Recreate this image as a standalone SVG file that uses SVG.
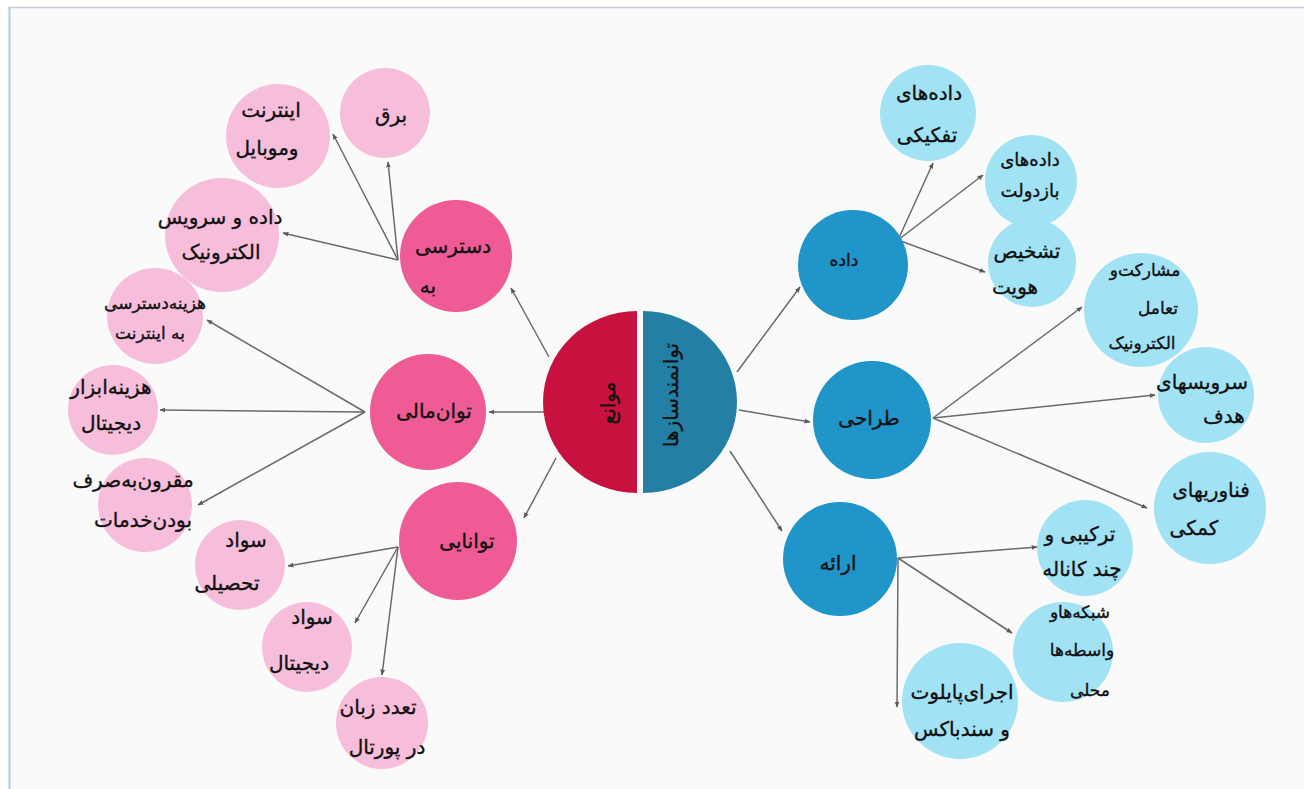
<svg xmlns="http://www.w3.org/2000/svg" width="1304" height="789" viewBox="0 0 1304 789">
<defs>
<marker id="ah" viewBox="0 0 10 10" refX="9" refY="5" markerWidth="6" markerHeight="6" orient="auto" markerUnits="userSpaceOnUse">
<path d="M0,1 L10,5 L0,9 z" fill="#5a5a5a"/>
</marker>
<style>
.t{font-family:"DejaVu Sans","Noto Sans",sans-serif;font-size:20px;fill:#111;stroke:#111;stroke-width:0.35;text-anchor:middle;direction:rtl}
.s{font-size:17px}
.hub{fill:#ee5b95}
.lp{fill:#f7bedb}
.bh{fill:#1f95c9}
.lb{fill:#a2e2f5}
.c line{stroke:#6a6a6a;stroke-width:1.5;marker-end:url(#ah)}
</style>
</defs>
<rect x="0" y="0" width="1304" height="789" fill="#ffffff"/>
<rect x="9" y="7" width="1295" height="782" fill="#fafafa"/>
<line x1="9" y1="7.5" x2="1304" y2="7.5" stroke="#c5ced8" stroke-width="1.5"/>
<line x1="9.5" y1="7" x2="9.5" y2="789" stroke="#aecbe8" stroke-width="2"/>

<g id="connectors" class="c">
<line x1="549" y1="357" x2="511" y2="288"/>
<line x1="545" y1="412" x2="489" y2="412"/>
<line x1="556" y1="458" x2="524" y2="518"/>
<line x1="398" y1="260" x2="388" y2="162"/>
<line x1="398" y1="260" x2="333" y2="134"/>
<line x1="398" y1="260" x2="283" y2="233"/>
<line x1="365" y1="412" x2="207" y2="320"/>
<line x1="365" y1="412" x2="160" y2="410"/>
<line x1="365" y1="412" x2="198" y2="505"/>
<line x1="398" y1="547" x2="288" y2="566"/>
<line x1="398" y1="547" x2="355" y2="623"/>
<line x1="398" y1="547" x2="382" y2="675"/>
<line x1="737" y1="372" x2="800" y2="287"/>
<line x1="739" y1="410" x2="810" y2="422"/>
<line x1="730" y1="451" x2="782" y2="531"/>
<line x1="898" y1="240" x2="933" y2="163"/>
<line x1="898" y1="240" x2="983" y2="175"/>
<line x1="898" y1="240" x2="985" y2="272"/>
<line x1="933" y1="418" x2="1082" y2="307"/>
<line x1="933" y1="418" x2="1155" y2="395"/>
<line x1="933" y1="418" x2="1147" y2="508"/>
<line x1="898" y1="558" x2="1037" y2="547"/>
<line x1="898" y1="558" x2="1012" y2="633"/>
<line x1="898" y1="558" x2="897" y2="707"/>
</g>

<g id="center">
<path d="M637,311 A94,91 0 0 0 637,493 Z" fill="#c8113f"/>
<path d="M643,311 A94,91 0 0 1 643,493 Z" fill="#237fa3"/>
<text class="t" transform="translate(608,403) rotate(-90)" dy="7">موانع</text>
<text class="t" transform="translate(671,395) rotate(-90)" dy="7">توانمندسازها</text>
</g>

<g id="n-access"><circle class="hub" cx="456" cy="256" r="56"/>
<text class="t" x="453" y="253">دسترسی</text><text class="t" x="428" y="293">به</text></g>
<g id="n-finance"><circle class="hub" cx="428" cy="412" r="58"/>
<text class="t" x="434" y="418">توان‌مالی</text></g>
<g id="n-ability"><circle class="hub" cx="458" cy="541" r="59"/>
<text class="t" x="467" y="548">توانایی</text></g>

<g id="n-power"><circle class="lp" cx="385" cy="113" r="45"/>
<text class="t" x="391" y="122">برق</text></g>
<g id="n-internet"><circle class="lp" cx="278" cy="136" r="52"/>
<text class="t" x="271" y="117">اینترنت</text><text class="t" x="267" y="155">وموبایل</text></g>
<g id="n-eservice"><circle class="lp" cx="222" cy="235" r="57"/>
<text class="t" x="220" y="224">داده و سرویس</text><text class="t" x="221" y="259">الکترونیک</text></g>
<g id="n-netcost"><circle class="lp" cx="155" cy="316" r="48"/>
<text class="t s" x="155" y="309">هزینه‌دسترسی</text><text class="t s" x="150" y="339">به اینترنت</text></g>
<g id="n-toolcost"><circle class="lp" cx="113" cy="410" r="45"/>
<text class="t" x="111" y="394">هزینه‌ابزار</text><text class="t" x="111" y="430">دیجیتال</text></g>
<g id="n-afford"><circle class="lp" cx="145" cy="505" r="47"/>
<text class="t" x="133" y="487">مقرون‌به‌صرف</text><text class="t" x="143" y="527">بودن‌خدمات</text></g>
<g id="n-edu"><circle class="lp" cx="240" cy="565" r="45"/>
<text class="t" x="246" y="547">سواد</text><text class="t" x="227" y="590">تحصیلی</text></g>
<g id="n-digit"><circle class="lp" cx="307" cy="647" r="45"/>
<text class="t" x="312" y="624">سواد</text><text class="t" x="299" y="670">دیجیتال</text></g>
<g id="n-lang"><circle class="lp" cx="382" cy="723" r="46"/>
<text class="t" x="378" y="714">تعدد زبان</text><text class="t" x="387" y="754">در پورتال</text></g>

<g id="n-data"><circle class="bh" cx="853" cy="265" r="55"/>
<text class="t s" x="844" y="266">داده</text></g>
<g id="n-design"><circle class="bh" cx="872" cy="420" r="59"/>
<text class="t" x="869" y="425">طراحی</text></g>
<g id="n-deliver"><circle class="bh" cx="840" cy="559" r="57"/>
<text class="t" x="838" y="570">ارائه</text></g>

<g id="n-disagg"><circle class="lb" cx="928" cy="113" r="48"/>
<text class="t" x="929" y="100">داده‌های</text><text class="t" x="927" y="142">تفکیکی</text></g>
<g id="n-open"><circle class="lb" cx="1031" cy="181" r="46"/>
<text class="t" x="1030" y="166" style="font-size:18px">داده‌های</text><text class="t" x="1030" y="197" style="font-size:18px">بازدولت</text></g>
<g id="n-ident"><circle class="lb" cx="1032" cy="263" r="44"/>
<text class="t" x="1027" y="258">تشخیص</text><text class="t" x="1015" y="294">هویت</text></g>
<g id="n-partic"><circle class="lb" cx="1141" cy="310" r="57"/>
<text class="t s" x="1145" y="276">مشارکت‌و</text><text class="t s" x="1158" y="314">تعامل</text><text class="t s" x="1142" y="349">الکترونیک</text></g>
<g id="n-target"><circle class="lb" cx="1206" cy="395" r="48"/>
<text class="t" x="1202" y="389">سرویسهای</text><text class="t" x="1224" y="423">هدف</text></g>
<g id="n-assist"><circle class="lb" cx="1210" cy="508" r="56"/>
<text class="t" x="1211" y="497">فناوریهای</text><text class="t" x="1194" y="535">کمکی</text></g>
<g id="n-omni"><circle class="lb" cx="1085" cy="548" r="48"/>
<text class="t" x="1080" y="541">ترکیبی  و</text><text class="t" x="1082" y="576">چند کاناله</text></g>
<g id="n-local"><circle class="lb" cx="1063" cy="652" r="50"/>
<text class="t s" x="1080" y="618">شبکه‌هاو</text><text class="t s" x="1082" y="656">واسطه‌ها</text><text class="t s" x="1090" y="696">محلی</text></g>
<g id="n-pilot"><circle class="lb" cx="960" cy="701" r="58"/>
<text class="t" x="962" y="699">اجرای‌پایلوت</text><text class="t" x="962" y="736">و سندباکس</text></g>
</svg>
